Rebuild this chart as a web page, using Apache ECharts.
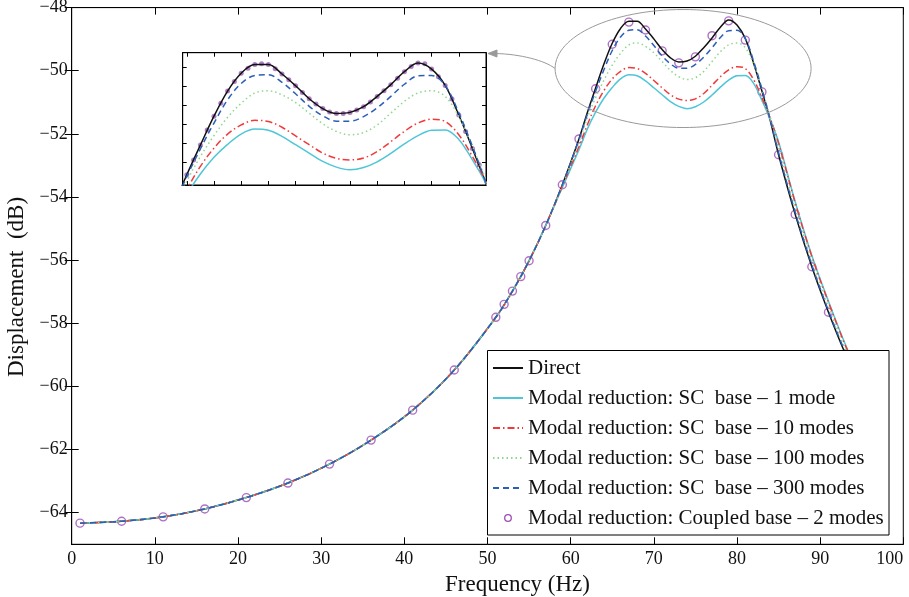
<!DOCTYPE html>
<html>
<head>
<meta charset="utf-8">
<script src="https://cdn.jsdelivr.net/npm/echarts@6/dist/echarts.min.js"></script>
<style>
html, body { margin: 0; padding: 0; background: #fff; }
#main { width: 909px; height: 597px; }
</style>
</head>
<body>
<div id="main"></div>
<script>
// frequency grid shared by every line below 59 Hz (the curves all coincide there)
const freqLow = [1, 6, 11, 16, 21, 26, 31, 36, 41, 46, 51, 53, 55, 57];
const levelLow = [-64.33, -64.27, -64.13, -63.88, -63.52, -63.06, -62.46, -61.70, -60.75, -59.48, -57.81, -56.98, -56.02, -54.90];

// resonance region, where the reductions separate
const freqPeak = [59, 61, 62, 63, 64, 65, 66, 67, 68, 69, 70, 71, 72, 73, 74, 75, 76, 77, 78, 79, 80, 81, 82, 83, 84, 85, 87, 89, 91, 93, 95, 97];
const directPeak = [-53.61, -52.16, -51.33, -50.55, -49.79, -49.13, -48.66, -48.43, -48.43, -48.68, -48.99, -49.33, -49.59, -49.72, -49.69, -49.54, -49.27, -48.96, -48.62, -48.39, -48.55, -48.98, -49.76, -50.64, -51.58, -52.66, -54.55, -56.21, -57.65, -58.95, -60.10, -61.10];
const sc1Peak = [-53.70, -52.50, -51.85, -51.31, -50.87, -50.53, -50.26, -50.13, -50.16, -50.32, -50.54, -50.76, -50.98, -51.13, -51.20, -51.14, -50.99, -50.77, -50.52, -50.30, -50.16, -50.15, -50.40, -50.94, -51.55, -52.25, -54.15, -55.85, -57.30, -58.65, -59.85, -60.90];
const sc10Peak = [-53.66, -52.40, -51.72, -51.11, -50.63, -50.26, -50.02, -49.90, -49.93, -50.08, -50.31, -50.54, -50.76, -50.90, -50.94, -50.89, -50.72, -50.46, -50.19, -49.97, -49.87, -49.93, -50.28, -50.85, -51.51, -52.30, -54.18, -55.88, -57.33, -58.68, -59.88, -60.92];
const sc100Peak = [-53.63, -52.25, -51.50, -50.85, -50.30, -49.82, -49.45, -49.18, -49.12, -49.23, -49.43, -49.71, -49.99, -50.19, -50.28, -50.22, -50.02, -49.71, -49.40, -49.18, -49.12, -49.27, -49.80, -50.59, -51.47, -52.45, -54.35, -56.02, -57.48, -58.80, -59.98, -61.00];
const sc300Peak = [-53.61, -52.18, -51.38, -50.65, -49.97, -49.36, -48.93, -48.72, -48.70, -48.90, -49.20, -49.53, -49.78, -49.92, -49.92, -49.80, -49.57, -49.27, -48.95, -48.73, -48.72, -48.98, -49.70, -50.58, -51.55, -52.60, -54.48, -56.15, -57.60, -58.90, -60.06, -61.06];

// coupled base markers (main plot)
const coupledFreq = [1, 6, 11, 16, 21, 26, 31, 36, 41, 46, 51, 52, 53, 54, 55, 57, 59, 61, 63, 65, 67, 69, 71, 73, 75, 77, 79, 81, 83, 85, 87, 89, 91];
const coupledLevel = [-64.33, -64.27, -64.13, -63.88, -63.52, -63.06, -62.46, -61.70, -60.75, -59.48, -57.81, -57.40, -56.98, -56.52, -56.02, -54.90, -53.61, -52.16, -50.57, -49.16, -48.46, -48.71, -49.37, -49.75, -49.56, -48.89, -48.42, -49.03, -50.67, -52.66, -54.55, -56.21, -57.65];

// coupled base markers (zoomed inset)
const coupledFineFreq = [62, 62.5, 63, 63.5, 64, 64.5, 65, 65.5, 66, 66.5, 67, 67.5, 68, 68.5, 69, 69.5, 70, 70.5, 71, 71.5, 72, 72.5, 73, 73.5, 74, 74.5, 75, 75.5, 76, 76.5, 77, 77.5, 78, 78.5, 79, 79.5, 80, 80.5, 81, 81.5, 82, 82.5, 83, 83.5];
const coupledFineLevel = [-51.33, -50.94, -50.55, -50.15, -49.79, -49.45, -49.13, -48.88, -48.66, -48.53, -48.43, -48.41, -48.43, -48.54, -48.68, -48.83, -48.99, -49.17, -49.33, -49.47, -49.59, -49.68, -49.72, -49.72, -49.69, -49.63, -49.54, -49.42, -49.27, -49.12, -48.96, -48.79, -48.62, -48.48, -48.39, -48.41, -48.55, -48.75, -48.98, -49.34, -49.76, -50.19, -50.64, -51.07];

const yTicks = [-64, -62, -60, -58, -56, -54, -52, -50, -48];
const insetXTicks = [62, 64, 66, 68, 70, 72, 74, 76, 78, 80, 82];
const insetYTicks = [-51, -50.5, -50, -49.5, -49, -48.5];

const seriesNames = [
    'Direct',
    'Modal reduction: SC  base \u2013 1 mode',
    'Modal reduction: SC  base \u2013 10 modes',
    'Modal reduction: SC  base \u2013 100 modes',
    'Modal reduction: SC  base \u2013 300 modes',
    'Modal reduction: Coupled base \u2013 2 modes'
];

const FONT = 'Liberation Serif';
const PURPLE = '#9b4db5';

const zip = (xs, ys) => xs.map((x, i) => [x, ys[i]]);
const curve = (peak) => zip(freqLow.concat(freqPeak), levelLow.concat(peak));

const lineDefs = [
    { name: seriesNames[0], data: curve(directPeak), color: '#111111', type: 'solid', width: 1.5 },
    { name: seriesNames[1], data: curve(sc1Peak), color: '#4fc6d8', type: 'solid', width: 1.5 },
    { name: seriesNames[2], data: curve(sc10Peak), color: '#f03a3a', type: [7, 3, 1.5, 3], width: 1.5 },
    { name: seriesNames[3], data: curve(sc100Peak), color: '#8fd68f', type: [1.5, 3], width: 1.5 },
    { name: seriesNames[4], data: curve(sc300Peak), color: '#2a5fb8', type: [6, 4], width: 1.5 }
];

const minusFmt = (v) => (v < 0 ? '\u2212' + Math.abs(v) : String(v));

var myChart = echarts.init(document.getElementById('main'));

const series = [];
// main plot lines
lineDefs.forEach(d => {
    series.push({
        name: d.name, type: 'line', xAxisIndex: 0, yAxisIndex: 0,
        data: d.data, smooth: 0.35, symbol: 'none',
        lineStyle: { color: d.color, width: d.width, type: d.type },
        itemStyle: { color: d.color }
    });
});
series.push({
    name: seriesNames[5], type: 'scatter', xAxisIndex: 0, yAxisIndex: 0,
    data: zip(coupledFreq, coupledLevel), symbol: 'circle', symbolSize: 8,
    itemStyle: { color: 'transparent', borderColor: PURPLE, borderWidth: 1.4 }
});
// inset lines
lineDefs.forEach(d => {
    series.push({
        name: d.name, type: 'line', xAxisIndex: 2, yAxisIndex: 2,
        data: d.data, smooth: 0.35, symbol: 'none', clip: true,
        lineStyle: { color: d.color, width: d.width, type: d.type },
        itemStyle: { color: d.color }
    });
});
series.push({
    name: seriesNames[5], type: 'scatter', xAxisIndex: 2, yAxisIndex: 2,
    data: zip(coupledFineFreq, coupledFineLevel), symbol: 'circle', symbolSize: 5,
    itemStyle: { color: '#9b5fb5' }
});

const blackLine = { show: true, lineStyle: { color: '#000', width: 1 } };

const option = {
    animation: false,
    backgroundColor: '#fff',
    grid: [
        { left: 71.7, top: 7.6, right: 5.7, bottom: 52.7, outerBoundsMode: 'none', containLabel: false, show: true, borderColor: '#000', borderWidth: 1, backgroundColor: 'transparent' },
        { left: 182.7, top: 52.7, width: 303.3, height: 132.3, outerBoundsMode: 'none', containLabel: false, show: true, borderColor: '#000', borderWidth: 1, backgroundColor: '#fff' }
    ],
    xAxis: [
        {
            gridIndex: 0, type: 'value', min: 0, max: 100, interval: 10, position: 'bottom',
            axisLine: blackLine, splitLine: { show: false },
            axisTick: { inside: true, length: 7, lineStyle: { color: '#000' } },
            axisLabel: { color: '#111', fontSize: 18, fontFamily: FONT, margin: 6, alignMaxLabel: 'right' },
            name: 'Frequency (Hz)', nameLocation: 'middle', nameGap: 24,
            nameTextStyle: { color: '#111', fontSize: 23, fontFamily: FONT, padding: [0, 0, 0, 60] }
        },
        {
            gridIndex: 0, type: 'value', min: 0, max: 100, interval: 10, position: 'top',
            axisLine: blackLine, splitLine: { show: false }, axisLabel: { show: false },
            axisTick: { inside: true, length: 7, lineStyle: { color: '#000' } }
        },
        {
            gridIndex: 1, type: 'value', min: 61.7, max: 84, position: 'bottom',
            axisLine: blackLine, splitLine: { show: false }, axisLabel: { show: false },
            axisTick: { inside: true, length: 4, customValues: insetXTicks, lineStyle: { color: '#000' } }
        },
        {
            gridIndex: 1, type: 'value', min: 61.7, max: 84, position: 'top',
            axisLine: blackLine, splitLine: { show: false }, axisLabel: { show: false },
            axisTick: { inside: true, length: 4, customValues: insetXTicks, lineStyle: { color: '#000' } }
        }
    ],
    yAxis: [
        {
            gridIndex: 0, type: 'value', min: -65, max: -48, position: 'left',
            axisLine: blackLine, splitLine: { show: false },
            axisTick: { inside: true, length: 7, customValues: yTicks, lineStyle: { color: '#000' } },
            axisLabel: { color: '#111', fontSize: 18, fontFamily: FONT, margin: 4, customValues: yTicks, formatter: minusFmt },
            name: 'Displacement  (dB)', nameLocation: 'middle', nameGap: 40,
            nameTextStyle: { color: '#111', fontSize: 23, fontFamily: FONT, padding: [0, 22, 0, 0] }
        },
        {
            gridIndex: 0, type: 'value', min: -65, max: -48, position: 'right',
            axisLine: blackLine, splitLine: { show: false }, axisLabel: { show: false },
            axisTick: { inside: true, length: 7, customValues: yTicks, lineStyle: { color: '#000' } }
        },
        {
            gridIndex: 1, type: 'value', min: -51.6, max: -48.12, position: 'left',
            axisLine: blackLine, splitLine: { show: false }, axisLabel: { show: false },
            axisTick: { inside: true, length: 4, customValues: insetYTicks, lineStyle: { color: '#000' } }
        },
        {
            gridIndex: 1, type: 'value', min: -51.6, max: -48.12, position: 'right',
            axisLine: blackLine, splitLine: { show: false }, axisLabel: { show: false },
            axisTick: { inside: true, length: 4, customValues: insetYTicks, lineStyle: { color: '#000' } }
        }
    ],
    legend: {
        orient: 'vertical', left: 492, top: 357, padding: 0,
        zlevel: 1, z: 4,
        itemWidth: 30, itemHeight: 12, itemGap: 8,
        itemStyle: { opacity: 0 },
        textStyle: { color: '#111', fontSize: 21, fontFamily: FONT, lineHeight: 22 },
        data: [
            seriesNames[0], seriesNames[1], seriesNames[2], seriesNames[3], seriesNames[4],
            {
                name: seriesNames[5],
                icon: 'path://M0,0M30,12M11.7,6a3.3,3.3 0 1,0 6.6,0a3.3,3.3 0 1,0 -6.6,0Z',
                itemStyle: { opacity: 1, color: 'transparent', borderColor: PURPLE, borderWidth: 1.3 }
            }
        ]
    },
    series: series
};

myChart.setOption(option);

// annotation: ellipse round the resonance peaks and an arrow to the inset
const c = myChart.convertToPixel({ gridIndex: 0 }, [73.52, -49.93]);
const rx = 128, ry = 59;
myChart.setOption({
    graphic: {
        elements: [
            {
                // legend frame, on the legend's layer so it hides the curves behind it
                type: 'rect', zlevel: 1, z: 3, silent: true,
                shape: { x: 487.5, y: 350.5, width: 401.5, height: 184.5 },
                style: { fill: '#fff', stroke: '#000', lineWidth: 1 }
            },
            {
                type: 'ellipse', z: 5, silent: true,
                shape: { cx: c[0], cy: c[1], rx: rx, ry: ry },
                style: { fill: 'none', stroke: '#9a9a9a', lineWidth: 1 }
            },
            {
                type: 'bezierCurve', z: 5, silent: true,
                shape: { x1: c[0] - rx, y1: c[1], cpx1: c[0] - rx - 10, cpy1: c[1] - 8, cpx2: c[0] - rx - 35, cpy2: 54, x2: 495, y2: 53.5 },
                style: { fill: 'none', stroke: '#9a9a9a', lineWidth: 1 }
            },
            {
                type: 'polygon', z: 5, silent: true,
                shape: { points: [[488, 53.5], [497, 50], [497, 57]] },
                style: { fill: '#9a9a9a', stroke: '#9a9a9a', lineWidth: 1 }
            }
        ]
    }
});
</script>
</body>
</html>
